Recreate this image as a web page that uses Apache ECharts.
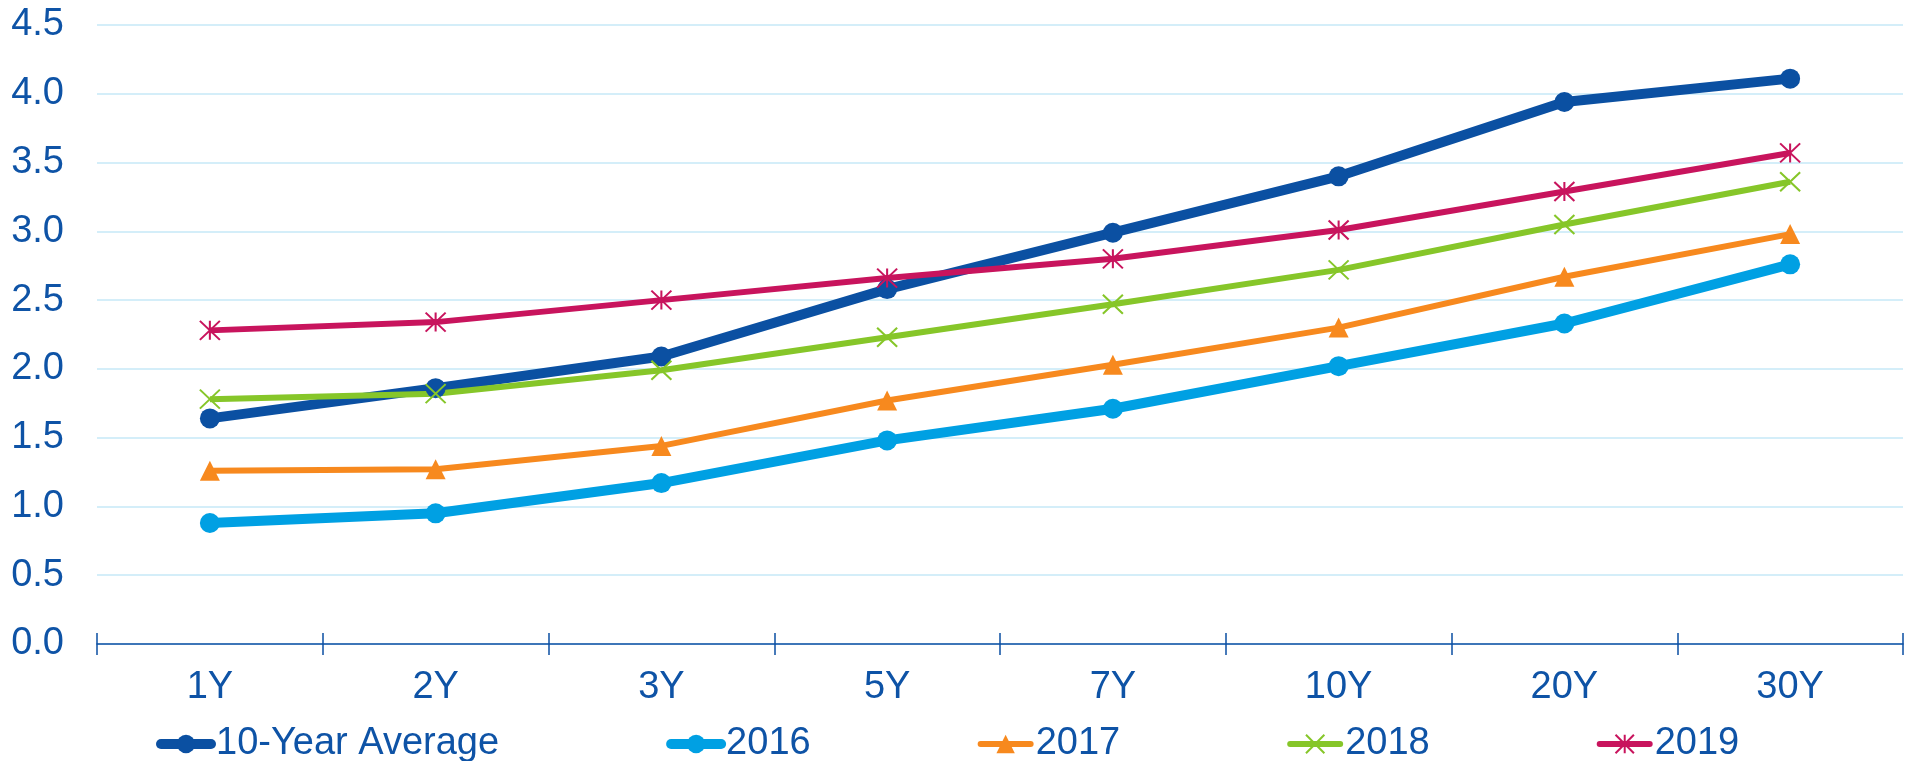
<!DOCTYPE html>
<html>
<head>
<meta charset="utf-8">
<script src="https://cdn.jsdelivr.net/npm/echarts@6/dist/echarts.min.js"></script>
<style>
  html, body { margin: 0; padding: 0; background: #fff; }
  #chart { width: 1915px; height: 761px; }
</style>
</head>
<body>
<div id="chart"></div>
<script>
const categories = ["1Y", "2Y", "3Y", "5Y", "7Y", "10Y", "20Y", "30Y"];
const yTicks = [0, 0.5, 1.0, 1.5, 2.0, 2.5, 3.0, 3.5, 4.0, 4.5];

const avg10 = [1.64, 1.86, 2.09, 2.58, 2.99, 3.40, 3.94, 4.11];
const y2016 = [0.88, 0.95, 1.17, 1.48, 1.71, 2.02, 2.33, 2.76];
const y2017 = [1.26, 1.27, 1.44, 1.77, 2.03, 2.30, 2.67, 2.98];
const y2018 = [1.78, 1.82, 1.99, 2.23, 2.47, 2.72, 3.05, 3.36];
const y2019 = [2.28, 2.34, 2.50, 2.66, 2.80, 3.01, 3.29, 3.57];

const textColor = "#0E53A6";
const font = "Arial, 'Liberation Sans', sans-serif";

const chart = echarts.init(document.getElementById("chart"));

const option = {
  animation: false,
  grid: {
    left: 97,
    right: 12,
    top: 25,
    bottom: 117,
    containLabel: false,
  },
  legend: {
    left: 151,
    top: 720,
    itemWidth: 50,
    itemHeight: 23,
    itemGap: 167,
    textStyle: {
      color: textColor,
      fontSize: 38,
      fontFamily: font,
    },
    data: [
      { name: "10-Year Average", lineStyle: { width: 10, cap: "round" } },
      { name: "2016", lineStyle: { width: 10, cap: "round" } },
      { name: "2017", lineStyle: { width: 6, cap: "round" } },
      { name: "2018", lineStyle: { width: 6, cap: "round" } },
      { name: "2019", lineStyle: { width: 6, cap: "round" } },
    ],
  },
  xAxis: [
    {
      type: "category",
      data: categories,
      boundaryGap: true,
      axisLine: {
        lineStyle: { color: "#0B4FA3", width: 1.5 },
      },
      axisTick: {
        show: true,
        length: 11,
        lineStyle: { color: "#0B4FA3", width: 1.5 },
      },
      axisLabel: {
        color: textColor,
        fontSize: 38,
        fontFamily: font,
        margin: 25,
      },
      splitLine: { show: false },
    },
    {
      // second axis only for the ticks that poke up above the axis line
      type: "category",
      data: categories,
      position: "bottom",
      boundaryGap: true,
      axisLine: { show: false },
      axisTick: {
        show: true,
        inside: true,
        length: 11,
        lineStyle: { color: "#0B4FA3", width: 1.5 },
      },
      axisLabel: { show: false },
      splitLine: { show: false },
    },
  ],
  yAxis: {
    type: "value",
    min: yTicks[0],
    max: yTicks[yTicks.length - 1],
    interval: 0.5,
    axisLine: { show: false },
    axisTick: { show: false },
    axisLabel: {
      color: textColor,
      fontSize: 38,
      fontFamily: font,
      margin: 33,
      formatter: (v) => v.toFixed(1),
    },
    splitLine: {
      lineStyle: { color: "#C6E8F7", width: 1.5 },
    },
  },
  series: [
    {
      name: "10-Year Average",
      type: "line",
      data: avg10,
      symbol: "circle",
      symbolSize: 20,
      itemStyle: { color: "#0B50A2" },
      lineStyle: { color: "#0B50A2", width: 10 },
    },
    {
      name: "2016",
      type: "line",
      data: y2016,
      symbol: "circle",
      symbolSize: 20,
      itemStyle: { color: "#00A0E3" },
      lineStyle: { color: "#00A0E3", width: 10 },
    },
    {
      name: "2017",
      type: "line",
      data: y2017,
      symbol: "triangle",
      symbolSize: 20,
      itemStyle: { color: "#F7891E" },
      lineStyle: { color: "#F7891E", width: 6 },
    },
    {
      name: "2018",
      type: "line",
      data: y2018,
      symbol: "path://M0,0L10,10M10,0L0,10",
      symbolSize: [20, 19],
      itemStyle: { color: "#86C629", borderColor: "#86C629", borderWidth: 2 },
      lineStyle: { color: "#86C629", width: 6 },
    },
    {
      name: "2019",
      type: "line",
      data: y2019,
      symbol: "path://M0,0L10,10M10,0L0,10M5,0L5,10",
      symbolSize: [20, 19],
      itemStyle: { color: "#C8145D", borderColor: "#C8145D", borderWidth: 2 },
      lineStyle: { color: "#C8145D", width: 6 },
    },
  ],
};

chart.setOption(option);
</script>
</body>
</html>
